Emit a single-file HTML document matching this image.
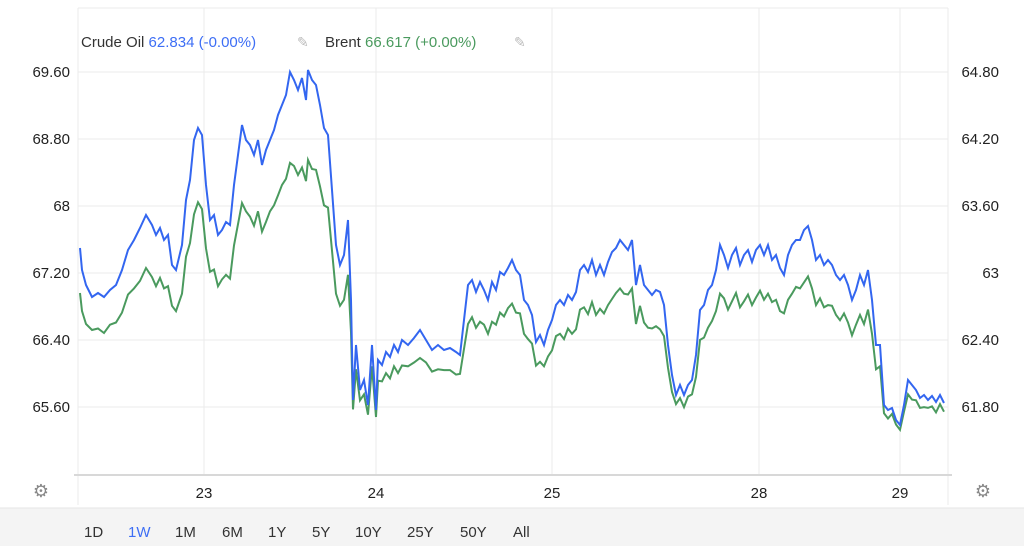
<!DOCTYPE html>
<html><head><meta charset="utf-8"><style>
body{margin:0;background:#fff;width:1024px;height:546px;overflow:hidden;font-family:"Liberation Sans",sans-serif}
</style></head><body>
<svg width="1024" height="546" xmlns="http://www.w3.org/2000/svg" font-family="Liberation Sans, sans-serif">
<rect x="0" y="508" width="1024" height="38" fill="#f4f4f4"/>
<line x1="0" y1="508" x2="1024" y2="508" stroke="#e6e6e6"/>
<g stroke="#ebebeb" stroke-width="1">
<line x1="78" y1="8" x2="948" y2="8"/>
<line x1="78" y1="72" x2="948" y2="72"/>
<line x1="78" y1="139" x2="948" y2="139"/>
<line x1="78" y1="206" x2="948" y2="206"/>
<line x1="78" y1="273" x2="948" y2="273"/>
<line x1="78" y1="340" x2="948" y2="340"/>
<line x1="78" y1="407" x2="948" y2="407"/>
<line x1="204" y1="8" x2="204" y2="475"/>
<line x1="376" y1="8" x2="376" y2="475"/>
<line x1="552" y1="8" x2="552" y2="475"/>
<line x1="759" y1="8" x2="759" y2="475"/>
<line x1="900" y1="8" x2="900" y2="475"/>
<line x1="78" y1="8" x2="78" y2="505"/>
<line x1="948" y1="8" x2="948" y2="505"/>
</g>
<line x1="74" y1="475" x2="952" y2="475" stroke="#d8d8d8" stroke-width="2"/>
<g font-size="15" fill="#222" text-anchor="end">
<text x="70" y="77">69.60</text><text x="70" y="144">68.80</text><text x="70" y="211">68</text>
<text x="70" y="278">67.20</text><text x="70" y="345">66.40</text><text x="70" y="412">65.60</text>
</g>
<g font-size="15" fill="#222" text-anchor="end">
<text x="999" y="77">64.80</text><text x="999" y="144">64.20</text><text x="999" y="211">63.60</text>
<text x="999" y="278">63</text><text x="999" y="345">62.40</text><text x="999" y="412">61.80</text>
</g>
<g font-size="15" fill="#222" text-anchor="middle">
<text x="204" y="498">23</text><text x="376" y="498">24</text><text x="552" y="498">25</text>
<text x="759" y="498">28</text><text x="900" y="498">29</text>
</g>
<g font-size="15" fill="#333">
<text x="84" y="537">1D</text><text x="128" y="537" fill="#3d6ef5">1W</text><text x="175" y="537">1M</text>
<text x="222" y="537">6M</text><text x="268" y="537">1Y</text><text x="312" y="537">5Y</text>
<text x="355" y="537">10Y</text><text x="407" y="537">25Y</text><text x="460" y="537">50Y</text><text x="513" y="537">All</text>
</g>
<text x="41" y="497" font-size="18" fill="#888" text-anchor="middle">⚙</text>
<text x="983" y="497" font-size="18" fill="#888" text-anchor="middle">⚙</text>
<text x="81" y="47" font-size="15" fill="#333">Crude Oil <tspan fill="#3d6ef5">62.834 (-0.00%)</tspan></text>
<text x="297" y="47" font-size="14" fill="#bbb">✎</text>
<text x="325" y="47" font-size="15" fill="#333">Brent <tspan fill="#4a9a5e">66.617 (+0.00%)</tspan></text>
<text x="514" y="47" font-size="14" fill="#bbb">✎</text>
<path id="g" fill="none" stroke="#4a9a5e" stroke-width="2"/>
<path id="b" fill="none" stroke="#3366f0" stroke-width="2"/>
</svg>
<script>
var p=[80,248,82,270,86,285,92,297,98,293,104,297,110,290,116,285,122,270,128,250,134,240,140,228,146,215,152,225,156,235,160,228,164,240,168,235,172,265,176,270,182,245,186,200,190,180,194,140,198,128,202,135,206,185,210,220,214,215,218,235,222,230,226,222,230,225,234,185,238,155,242,125,246,140,250,145,254,155,258,140,262,165,266,150,270,140,274,130,278,115,282,105,286,95,290,72,294,80,298,90,302,78,306,100,308,70,312,80,316,85,320,105,324,128,328,135,332,190,336,245,340,265,344,255,348,220,351,300,353,400,356,345,360,390,364,380,368,405,372,345,376,410,378,360,382,365,386,352,390,357,394,345,398,352,402,340,408,345,414,338,420,330,426,340,432,350,438,345,444,350,450,348,456,352,460,355,464,320,468,285,472,280,476,292,480,282,484,290,488,300,492,282,496,290,500,272,504,275,508,268,512,260,516,270,520,275,524,300,528,305,532,315,536,342,540,335,544,345,548,330,552,320,556,305,560,300,564,305,568,295,572,300,576,292,580,270,584,265,588,272,592,260,596,275,600,265,604,275,608,262,612,252,616,248,620,240,624,245,628,250,632,240,636,285,640,265,644,285,648,290,652,295,656,290,660,292,664,305,668,345,672,375,676,395,680,385,684,395,688,385,692,380,696,355,700,310,704,305,708,290,712,285,716,270,720,245,724,255,728,268,732,255,736,248,740,265,744,255,748,250,752,262,756,250,760,245,764,255,768,245,772,260,776,255,780,268,784,275,788,255,792,245,796,240,800,240,804,230,808,226,812,240,816,260,820,255,824,265,828,260,832,265,836,275,840,280,844,275,848,285,852,300,856,290,860,275,864,285,868,270,872,300,876,345,880,345,884,405,888,410,892,408,896,420,900,425,904,405,908,380,912,385,916,390,920,398,924,395,928,400,932,396,936,402,940,395,944,403];
var b="",g="";
for(var i=0;i<p.length;i+=2){var x=p[i],y=p[i+1];var gy=0.756*y+107+((i/2)%3-1)*1.5;
b+=(i?"L":"M")+x+","+y;g+=(i?"L":"M")+x+","+gy.toFixed(1);}
document.getElementById("b").setAttribute("d",b);document.getElementById("g").setAttribute("d",g);
</script>
</body></html>
